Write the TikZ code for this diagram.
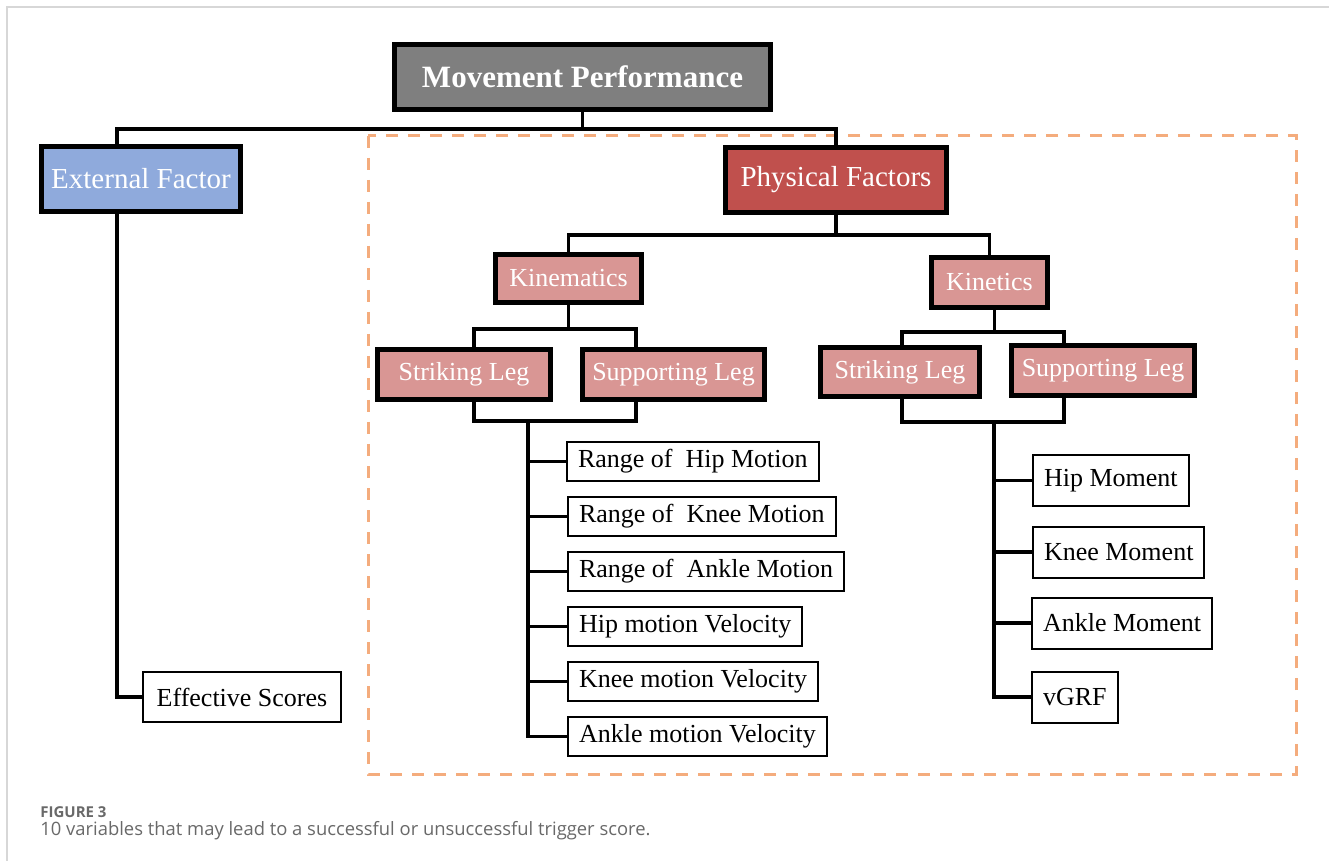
\documentclass[tikz,border=0pt]{standalone}
\usepackage{fontspec}
\setmainfont{Liberation Serif}
\newfontfamily\capfont{Open Sans}
\usetikzlibrary{positioning,calc}
\definecolor{mpgray}{RGB}{127,127,127}
\definecolor{extblue}{RGB}{143,170,220}
\definecolor{physred}{RGB}{192,80,77}
\definecolor{subpink}{RGB}{217,150,148}
\definecolor{dashorange}{RGB}{244,172,125}
\definecolor{capgray}{RGB}{105,105,105}
\definecolor{framegray}{RGB}{215,215,215}

\begin{document}
\begin{tikzpicture}[x=0.5pt,y=-0.5pt,
 hbox/.style={draw,line width=2.4pt,text=white,inner sep=0pt,align=center},
 topbox/.style={hbox,fill=mpgray,font=\fontsize{15.5}{18}\selectfont\bfseries},
 lvlone/.style={hbox,minimum height=32.6pt,font=\fontsize{14.5}{17}\selectfont},
 lvltwo/.style={hbox,fill=subpink,font=\fontsize{13}{15}\selectfont},
 item/.style={draw,line width=1pt,anchor=west,inner xsep=5.5pt,inner ysep=0pt,font=\fontsize{13}{15}\selectfont},
 conn/.style={line width=1.6pt}]
\fill[white] (0,0) rectangle (1329,861);
\useasboundingbox (0,0) rectangle (1329,861);
\draw[framegray,line width=0.8pt] (7,861) -- (7,7) -- (1329,7);
\draw[dashorange,line width=1.5pt,dash pattern=on 6pt off 5pt] (368,136) rectangle (1296,774);

\node[topbox,minimum width=188pt,minimum height=32.6pt] (mp) at (582.5,77) {Movement\ Performance};
\node[lvlone,fill=extblue,minimum width=99.6pt] (ef) at (141,179) {External Factor};
\node[lvlone,fill=physred,minimum width=110.6pt] (pf) at (836,180) {Physical Factors};

\node[lvltwo,minimum width=73.1pt,minimum height=24.1pt] (kmat) at (568.5,278.5) {Kinematics};
\node[lvltwo,minimum width=58.1pt,minimum height=25.1pt] (kin) at (989.5,282.5) {Kinetics};
\node[lvltwo,minimum width=86.6pt,minimum height=25.1pt] (sk1) at (464,374.5) {Striking Leg};
\node[lvltwo,minimum width=91.1pt,minimum height=25.1pt] (sp1) at (673.5,374.5) {Supporting Leg};
\node[lvltwo,minimum width=79.6pt,minimum height=24.6pt] (sk2) at (900,372) {Striking Leg};
\node[lvltwo,minimum width=91.6pt,minimum height=25.1pt] (sp2) at (1103,370.5) {Supporting Leg};

\node[item,minimum height=25pt,minimum width=99pt] (es) at (142,697) {Effective Scores};

\node[item,minimum height=19.5pt] (r1) at (566,461.5) {Range of~ Hip Motion};
\node[item,minimum height=19.5pt] (r2) at (567,516.5) {Range of~ Knee Motion};
\node[item,minimum height=19.5pt] (r3) at (567,571.5) {Range of~ Ankle Motion};
\node[item,minimum height=19.5pt] (r4) at (567,626.5) {Hip motion Velocity};
\node[item,minimum height=19.5pt] (r5) at (567,681.5) {Knee motion Velocity};
\node[item,minimum height=19.5pt] (r6) at (567,736.5) {Ankle motion Velocity};

\node[item,minimum height=25.5pt] (m1) at (1032,480.5) {Hip Moment};
\node[item,minimum height=25.5pt] (m2) at (1032,552) {Knee Moment};
\node[item,minimum height=25.5pt] (m3) at (1031,623) {Ankle Moment};
\node[item,minimum height=25.5pt] (m4) at (1031,697) {vGRF};

\draw[conn] (mp.south) -- ++(0,17) coordinate (bus0) -| ([xshift=-12pt]ef.north);
\draw[conn] (bus0) -| (pf.north);
\draw[conn] ([xshift=-12pt]ef.south) |- (es.west);

\draw[conn] (pf.south) -- ++(0,20) coordinate (bus1) -| (kmat.north);
\draw[conn] (bus1) -| (kin.north);

\draw[conn] (kmat.south) -- ++(0,24) coordinate (bus2) -| ([xshift=5pt]sk1.north);
\draw[conn] (bus2) -| ([xshift=-18.75pt]sp1.north);
\draw[conn] ([xshift=5pt]sk1.south) -- ++(0,19) coordinate (bus3) -| ([xshift=-18.75pt]sp1.south);
\foreach \n in {r1,r2,r3,r4,r5,r6} \draw[conn] ([xshift=27pt]bus3) |- (\n.west);

\draw[conn] ([xshift=2.5pt]kin.south) -- ++(0,22) coordinate (bus4) -| ([xshift=1pt]sk2.north);
\draw[conn] (bus4) -| ([xshift=-19.5pt]sp2.north);
\draw[conn] ([xshift=1pt]sk2.south) -- ++(0,23) coordinate (bus5) -| ([xshift=-19.5pt]sp2.south);
\foreach \n in {m1,m2,m3,m4} \draw[conn] ([xshift=46pt]bus5) |- (\n.west);

\node[anchor=base west,inner sep=0pt,text=capgray,font=\capfont\bfseries\fontsize{7.5}{9}\selectfont] (fig) at (40,817) {FIGURE 3};
\node[anchor=base west,inner sep=0pt,text=capgray,font=\capfont\fontsize{9.2}{11}\selectfont] (cap) at (40,835) {10 variables that may lead to a successful or unsuccessful trigger score.};
\end{tikzpicture}
\end{document}
